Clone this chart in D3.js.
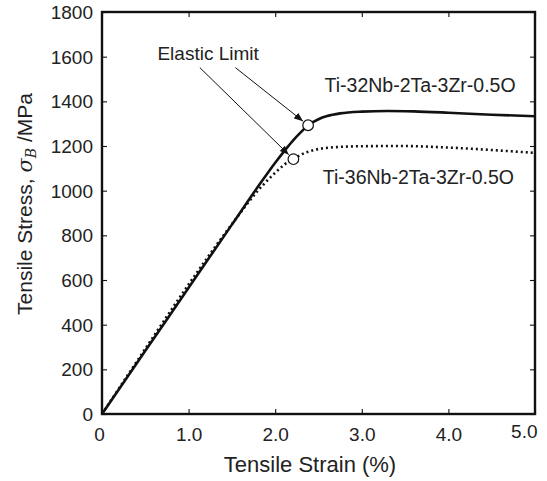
<!DOCTYPE html>
<html>
<head>
<meta charset="utf-8">
<script src="https://cdn.jsdelivr.net/npm/d3@7"></script>
<style>
  body { margin: 0; background: #fff; }
  text { font-family: "Liberation Sans", Arial, sans-serif; fill: #222; }
</style>
</head>
<body>
<svg id="chart" width="547" height="481"></svg>
<script>
// Ti-32Nb-2Ta-3Zr-0.5O (solid)
const strainA = [0, 0.5, 1.0, 1.5, 1.8, 2.0, 2.1, 2.2, 2.3, 2.38, 2.5, 2.6, 2.75, 3.0, 3.3, 3.6, 4.0, 4.5, 5.0];
const stressA = [0, 283, 565, 848, 1017, 1125, 1175, 1222, 1263, 1293, 1320, 1334, 1346, 1354, 1357, 1355, 1349, 1340, 1333];
// Ti-36Nb-2Ta-3Zr-0.5O (dotted)
const strainB = [0, 0.5, 1.0, 1.5, 1.8, 2.0, 2.1, 2.21, 2.3, 2.44, 2.63, 3.0, 3.44, 4.0, 4.5, 5.0];
const stressB = [0, 292, 580, 850, 1000, 1080, 1115, 1141, 1162, 1181, 1193, 1199, 1200, 1193, 1182, 1169];

// elastic limit points
const limitStrain = [2.38, 2.21];
const limitStress = [1293, 1141];

const xTicks = [0, 1, 2, 3, 4, 5];
const yTicks = [0, 200, 400, 600, 800, 1000, 1200, 1400, 1600, 1800];

const seriesNames = ['Ti-32Nb-2Ta-3Zr-0.5O', 'Ti-36Nb-2Ta-3Zr-0.5O'];

const margin = { top: 12, right: 12, bottom: 67, left: 102 };
const width = 547;
const height = 481;

const svg = d3.select('#chart');

const x = d3.scaleLinear()
  .domain([0, 5])
  .range([margin.left, width - margin.right]);

const y = d3.scaleLinear()
  .domain([0, 1800])
  .range([height - margin.bottom, margin.top]);

// axes with inward ticks
const xAxis = svg.append('g')
  .attr('transform', `translate(0, ${y(0)})`)
  .call(d3.axisBottom(x).tickValues(xTicks).tickSize(-5).tickSizeOuter(0)
    .tickFormat(d => d === 0 ? '0' : d3.format('.1f')(d)));

xAxis.selectAll('text')
  .attr('y', 27)
  .attr('dy', 0)
  .style('font-size', '19px')
  .attr('dx', (d, i) => (i === 0 ? -3 : 0))
  .attr('text-anchor', (d, i) => (i === xTicks.length - 1 ? 'end' : 'middle'))
  .attr('x', (d, i) => (i === xTicks.length - 1 ? 2 : 0));
xAxis.selectAll('text').filter(d => d === 5).attr('y', 24);

svg.append('g')
  .attr('transform', `translate(0, ${y(1800)})`)
  .call(d3.axisTop(x).tickValues(xTicks).tickSize(-5).tickSizeOuter(0).tickFormat(''));

const yAxis = svg.append('g')
  .attr('transform', `translate(${x(0)}, 0)`)
  .call(d3.axisLeft(y).tickValues(yTicks).tickSize(-5).tickSizeOuter(0).tickFormat(d3.format('d')));

yAxis.selectAll('text')
  .attr('x', -9)
  .attr('dy', '0.35em')
  .style('font-size', '19px');

svg.append('g')
  .attr('transform', `translate(${x(5)}, 0)`)
  .call(d3.axisRight(y).tickValues(yTicks).tickSize(-5).tickSizeOuter(0).tickFormat(''));

svg.selectAll('.domain').remove();
svg.selectAll('.tick line').attr('stroke', '#111').attr('stroke-width', 1.1);

// frame
svg.append('rect')
  .attr('x', x(0))
  .attr('y', y(1800))
  .attr('width', x(5) - x(0))
  .attr('height', y(0) - y(1800))
  .attr('fill', 'none')
  .attr('stroke', '#111')
  .attr('stroke-width', 2.4);

// curves
const line = d3.line()
  .x(d => x(d[0]))
  .y(d => y(d[1]))
  .curve(d3.curveMonotoneX);

svg.append('path')
  .datum(d3.zip(strainB, stressB))
  .attr('d', line)
  .attr('fill', 'none')
  .attr('stroke', '#111')
  .attr('stroke-width', 2.6)
  .attr('stroke-dasharray', '2,3');

svg.append('path')
  .datum(d3.zip(strainA, stressA))
  .attr('d', line)
  .attr('fill', 'none')
  .attr('stroke', '#111')
  .attr('stroke-width', 2.6);

// arrows
svg.append('defs').append('marker')
  .attr('id', 'arrow')
  .attr('viewBox', '0 0 10 10')
  .attr('refX', 10)
  .attr('refY', 5)
  .attr('markerWidth', 9)
  .attr('markerHeight', 9)
  .attr('markerUnits', 'userSpaceOnUse')
  .attr('orient', 'auto')
  .append('path')
  .attr('d', 'M0,1 L10,5 L0,9 Z')
  .attr('fill', '#111');

const arrowStart = [[1.13, 1551], [1.54, 1551]];
const arrowTarget = [1, 0];
arrowStart.forEach((s, i) => {
  const k = arrowTarget[i];
  const x0 = x(s[0]), y0 = y(s[1]);
  const x1 = x(limitStrain[k]), y1 = y(limitStress[k]);
  const len = Math.hypot(x1 - x0, y1 - y0);
  const r = 6.5;
  svg.append('line')
    .attr('x1', x0)
    .attr('y1', y0)
    .attr('x2', x1 - (x1 - x0) / len * r)
    .attr('y2', y1 - (y1 - y0) / len * r)
    .attr('stroke', '#111')
    .attr('stroke-width', 1)
    .attr('marker-end', 'url(#arrow)');
});

svg.selectAll('circle.limit')
  .data(d3.zip(limitStrain, limitStress))
  .enter()
  .append('circle')
  .attr('class', 'limit')
  .attr('cx', d => x(d[0]))
  .attr('cy', d => y(d[1]))
  .attr('r', 5.3)
  .attr('fill', '#fff')
  .attr('stroke', '#111')
  .attr('stroke-width', 1.2);

// annotations
svg.append('text')
  .attr('x', x(0.64))
  .attr('y', y(1587))
  .style('font-size', '19px')
  .text('Elastic Limit');

svg.append('text')
  .attr('x', x(2.57))
  .attr('y', y(1440))
  .style('font-size', '19.5px')
  .text(seriesNames[0]);

svg.append('text')
  .attr('x', x(2.55))
  .attr('y', y(1032))
  .style('font-size', '19.5px')
  .text(seriesNames[1]);

// axis titles
svg.append('text')
  .attr('x', 310)
  .attr('y', 472)
  .attr('text-anchor', 'middle')
  .style('font-size', '22px')
  .text('Tensile Strain (%)');

const yTitle = svg.append('text')
  .attr('transform', 'translate(32, 204) rotate(-90)')
  .attr('text-anchor', 'middle')
  .style('font-size', '21px');
yTitle.append('tspan').text('Tensile Stress,  ');
yTitle.append('tspan').style('font-family', '"DejaVu Serif", serif').style('font-style', 'italic').text('σ');
yTitle.append('tspan').style('font-family', '"DejaVu Serif", serif').style('font-style', 'italic')
  .style('font-size', '14px').attr('dy', 4).text('B');
yTitle.append('tspan').attr('dy', -4).text(' /MPa');
</script>
</body>
</html>
